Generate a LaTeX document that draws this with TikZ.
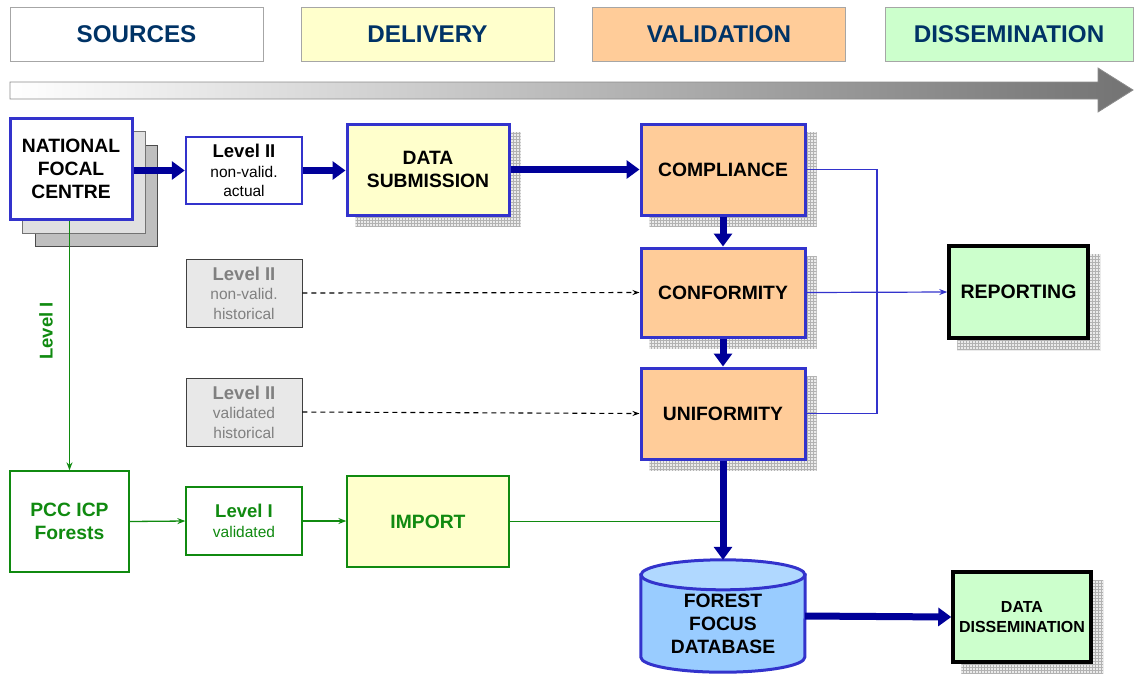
\documentclass[tikz,border=0pt]{standalone}
\usepackage{fontspec}
\setmainfont{Liberation Sans}
\usepackage{xcolor}
\usetikzlibrary{arrows.meta,patterns,backgrounds}

\definecolor{navy}{HTML}{003366}
\definecolor{boxblue}{HTML}{3333CC}
\definecolor{flowblue}{HTML}{000099}
\definecolor{paleyellow}{HTML}{FFFFCC}
\definecolor{paleorange}{HTML}{FFCC99}
\definecolor{palegreen}{HTML}{CCFFCC}
\definecolor{dbbody}{HTML}{99CCFF}
\definecolor{dbtop}{HTML}{B0D8FF}
\definecolor{leafgreen}{HTML}{108A10}

\newcommand\lvlhead{\fontsize{18.5}{20}\selectfont\bfseries}
\newcommand\lvlsub{\fontsize{15.5}{19.5}\selectfont}
\newcommand\boxfont{\fontsize{19.3}{23}\selectfont\bfseries}

\tikzset{
    phase/.style={draw=black!35, minimum width=253pt, minimum height=54pt,
        font=\fontsize{24.2}{26}\selectfont\bfseries, text=navy},
    bigbox/.style={draw=boxblue, line width=3pt, minimum width=162pt, minimum height=91pt,
        align=center, font=\boxfont},
    levelbox/.style={draw=boxblue, line width=2.5pt, minimum width=116pt, minimum height=67pt,
        align=center, font=\lvlsub},
    histbox/.style={draw=black!75, fill=black!9, text=black!50, line width=0.8pt,
        minimum width=116pt, minimum height=68pt, align=center, font=\lvlsub},
    greenbox/.style={draw=leafgreen, line width=1.3pt, text=leafgreen, align=center},
    outbox/.style={draw=black, line width=3.5pt, fill=palegreen, align=center},
    flow/.style={flowblue, line width=7pt, -{Triangle[width=18pt,length=13pt]}},
    thinblue/.style={boxblue, line width=1.2pt},
    greenline/.style={leafgreen, line width=1.3pt},
    dashflow/.style={black, line width=1.1pt, dash pattern=on 5pt off 4pt,
        -{Stealth[length=7pt,width=5pt]}},
    gridshadow/.style={fill=black!8, draw=black!8},
}

\begin{document}
\begin{tikzpicture}[x=1pt, y=-1pt]
    \useasboundingbox (0,0) rectangle (1134,673);

    % phases
    \node[phase] (sources) at (136.5,34) {SOURCES};
    \node[phase, fill=paleyellow] (delivery) at (427.5,34) {DELIVERY};
    \node[phase, fill=paleorange] (validation) at (719,34) {VALIDATION};
    \node[phase, fill=palegreen, minimum width=248pt] (dissem) at (1009,34) {DISSEMINATION};

    % time arrow
    \shade[left color=white, right color=black!55, draw=black!45, line width=0.8pt]
        (10,82) -- (1098,82) -- (1098,68) -- (1133,90) -- (1098,112) -- (1098,99) -- (10,99) -- cycle;

    % national focal centre with its stack
    \draw[fill=black!25, draw=black!70, line width=0.8pt] (35,145) rectangle (157,246);
    \draw[fill=black!12, draw=black!55, line width=0.8pt] (22,131) rectangle (145,233);
    \node[bigbox, fill=white, minimum width=122pt, minimum height=101pt] (nfc) at (71,168.5)
        {NATIONAL\\FOCAL\\CENTRE};

    \node[levelbox, fill=white] (actual) at (244,170.5) {{\lvlhead Level II}\\non-valid.\\actual};
    \node[histbox] (nonvalid) at (244,293) {{\lvlhead Level II}\\non-valid.\\historical};
    \node[histbox] (validhist) at (244,412) {{\lvlhead Level II}\\validated\\historical};

    \node[bigbox, fill=paleyellow] (subm) at (428,169.5) {DATA\\SUBMISSION};

    \node[bigbox, fill=paleorange, minimum width=164pt] (comp) at (723,169.5) {COMPLIANCE};
    \node[bigbox, fill=paleorange, minimum width=164pt, minimum height=89pt] (conf) at (723,292.5) {CONFORMITY};
    \node[bigbox, fill=paleorange, minimum width=164pt] (unif) at (723,413.5) {UNIFORMITY};

    \node[outbox, minimum width=139pt, minimum height=92pt,
        font=\fontsize{19.5}{23}\selectfont\bfseries] (rep) at (1018.5,292) {REPORTING};
    \node[outbox, minimum width=138pt, minimum height=90pt,
        font=\fontsize{16}{20}\selectfont\bfseries] (diss) at (1022,617) {DATA\\DISSEMINATION};

    % level I branch
    \node[greenbox, fill=white, minimum width=119pt, minimum height=101pt, font=\boxfont]
        (pcc) at (69.5,521.5) {PCC ICP\\Forests};
    \node[greenbox, fill=white, minimum width=116pt, minimum height=68pt, font=\lvlsub]
        (lvlone) at (244,521) {{\lvlhead Level I}\\validated};
    \node[greenbox, fill=paleyellow, minimum width=162pt, minimum height=91pt, font=\boxfont]
        (imp) at (428,521.5) {IMPORT};
    \node[text=leafgreen, rotate=90, font=\lvlhead] (lvllabel) at (46,331) {Level I};

    % database
    \node[minimum width=164pt, minimum height=112pt] (db) at (723,616) {};
    \path[fill=dbbody, draw=boxblue, line width=3pt]
        ([yshift=-15pt]db.north west) -- ([yshift=15pt]db.south west)
        arc[start angle=180, end angle=360, x radius=82pt, y radius=15pt]
        -- ([yshift=-15pt]db.north east) -- cycle;
    \path[fill=dbtop, draw=boxblue, line width=3pt]
        ([yshift=-15pt]db.north) ellipse [x radius=82pt, y radius=15pt];
    \node[font=\boxfont, align=center] (dbtext)
        at ([yshift=-8pt]db.center) {FOREST\\FOCUS\\DATABASE};

    % grid shadows
    \begin{scope}[on background layer]
        \foreach \n in {subm,comp,conf,unif,rep,diss}
            \path[gridshadow, postaction={pattern=grid, pattern color=black!30}]
                ([xshift=10pt,yshift=-10pt]\n.south west) rectangle ([xshift=10pt,yshift=-10pt]\n.north east);
    \end{scope}

    % connectors
    \coordinate (bend) at (877,170);
    \draw[thinblue] (comp.east) -- (comp.east -| bend) |- (unif.east);
    \draw[thinblue, -{Stealth[length=8pt,width=6pt]}] (conf.east) -- (rep.west);

    \draw[dashflow] (nonvalid.east) -- (conf.west);
    \draw[dashflow] (validhist.east) -- (unif.west);

    \draw[greenline, -{Stealth[length=8pt,width=6pt]}] (pcc.north |- nfc.south) -- (pcc.north);
    \draw[greenline, -{Stealth[length=8pt,width=6pt]}] (pcc.east) -- (lvlone.west);
    \draw[greenline, -{Stealth[length=8pt,width=6pt]}] (lvlone.east) -- (lvlone.east -| imp.west);
    \draw[greenline] (imp.east) -- (imp.east -| db.north);

    \draw[flow] (nfc.east |- actual.west) -- (actual.west);
    \draw[flow] (actual.east) -- (actual.east -| subm.west);
    \draw[flow] (subm.east) -- (comp.west);
    \draw[flow] (comp.south) -- (conf.north);
    \draw[flow] (conf.south) -- (unif.north);
    \draw[flow] (unif.south) -- (db.north);
    \draw[flow] (db.east) -- (diss.west);
\end{tikzpicture}
\end{document}
